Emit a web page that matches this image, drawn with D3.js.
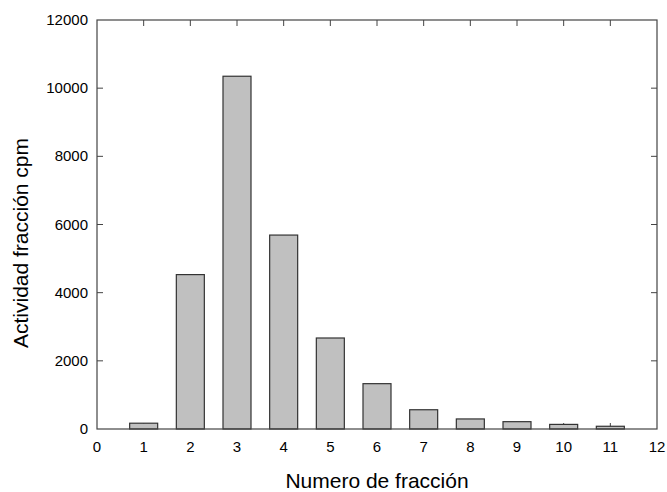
<!DOCTYPE html>
<html>
<head>
<meta charset="utf-8">
<script src="https://cdn.jsdelivr.net/npm/d3@7/dist/d3.min.js"></script>
<style>
  body { margin: 0; background: #fff; }
  text { font-family: "Liberation Sans", Arial, sans-serif; }
</style>
</head>
<body>
<div id="chart"></div>
<script>
const fractions = [1, 2, 3, 4, 5, 6, 7, 8, 9, 10, 11]
const activity = [170, 4530, 10350, 5690, 2670, 1330, 565, 295, 215, 135, 80]
const xTicks = [0, 1, 2, 3, 4, 5, 6, 7, 8, 9, 10, 11, 12]
const yTicks = [0, 2000, 4000, 6000, 8000, 10000, 12000]

const W = 667, H = 492
const plotL = 97, plotR = 657, plotT = 20, plotB = 429

const svg = d3.select('#chart')
  .append('svg')
  .attr('width', W)
  .attr('height', H)

const x = d3.scaleLinear().domain([0, 12]).range([plotL, plotR])
const y = d3.scaleLinear().domain([0, 12000]).range([plotB, plotT])

const tickLen = 6
const axisColor = '#444'

// inward ticks on all four sides, drawn under the bars
const ticks = svg.append('g')
  .attr('stroke', axisColor)
  .attr('stroke-width', 1)

ticks.selectAll('.tb')
  .data(xTicks.slice(1, -1))
  .enter()
  .append('line')
  .attr('x1', d => x(d)).attr('x2', d => x(d))
  .attr('y1', plotB).attr('y2', plotB - tickLen)

ticks.selectAll('.tt')
  .data(xTicks.slice(1, -1))
  .enter()
  .append('line')
  .attr('x1', d => x(d)).attr('x2', d => x(d))
  .attr('y1', plotT).attr('y2', plotT + tickLen)

ticks.selectAll('.tl')
  .data(yTicks.slice(1, -1))
  .enter()
  .append('line')
  .attr('x1', plotL).attr('x2', plotL + tickLen)
  .attr('y1', d => y(d)).attr('y2', d => y(d))

ticks.selectAll('.tr')
  .data(yTicks.slice(1, -1))
  .enter()
  .append('line')
  .attr('x1', plotR).attr('x2', plotR - tickLen)
  .attr('y1', d => y(d)).attr('y2', d => y(d))

// bars
const barW = x(0.6) - x(0)
svg.append('g')
  .selectAll('rect')
  .data(fractions)
  .enter()
  .append('rect')
  .attr('x', d => x(d) - barW / 2)
  .attr('y', (d, i) => y(activity[i]))
  .attr('width', barW)
  .attr('height', (d, i) => y(0) - y(activity[i]))
  .attr('fill', '#c0c0c0')
  .attr('stroke', '#333')
  .attr('stroke-width', 1.2)

// frame
svg.append('rect')
  .attr('x', plotL)
  .attr('y', plotT)
  .attr('width', plotR - plotL)
  .attr('height', plotB - plotT)
  .attr('fill', 'none')
  .attr('stroke', axisColor)
  .attr('stroke-width', 1.2)

// tick labels
svg.append('g')
  .selectAll('text')
  .data(xTicks)
  .enter()
  .append('text')
  .attr('x', d => x(d))
  .attr('y', plotB + 23)
  .attr('text-anchor', 'middle')
  .attr('font-size', 15)
  .attr('fill', '#000')
  .text(d => d)

svg.append('g')
  .selectAll('text')
  .data(yTicks)
  .enter()
  .append('text')
  .attr('x', plotL - 9)
  .attr('y', d => y(d) + 5)
  .attr('text-anchor', 'end')
  .attr('font-size', 15)
  .attr('fill', '#000')
  .text(d => d)

// axis titles
svg.append('text')
  .attr('x', (plotL + plotR) / 2)
  .attr('y', 488)
  .attr('text-anchor', 'middle')
  .attr('font-size', 21)
  .attr('fill', '#000')
  .text('Numero de fracción')

svg.append('text')
  .attr('transform', 'translate(28, 243) rotate(-90)')
  .attr('text-anchor', 'middle')
  .attr('font-size', 21)
  .attr('fill', '#000')
  .text('Actividad fracción cpm')
</script>
</body>
</html>
